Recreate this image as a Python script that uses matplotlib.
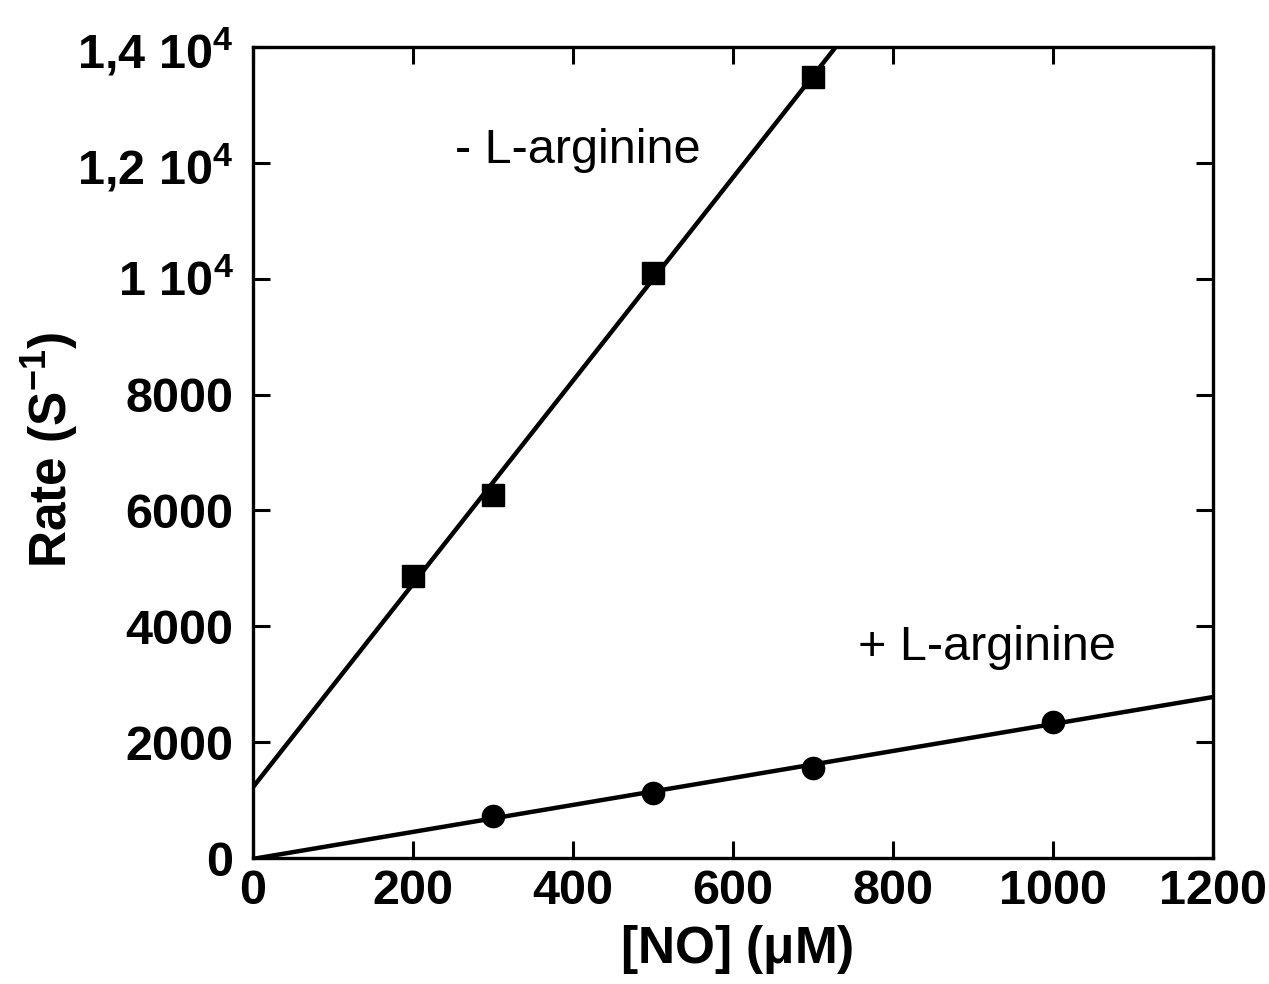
import numpy as np
import matplotlib
matplotlib.use("Agg")
import matplotlib.pyplot as plt

plt.rcParams['font.family'] = ['Liberation Sans', 'DejaVu Sans']
plt.rcParams['mathtext.fontset'] = 'custom'
plt.rcParams['mathtext.rm'] = 'Liberation Sans:bold'
plt.rcParams['mathtext.bf'] = 'Liberation Sans:bold'
plt.rcParams['mathtext.it'] = 'Liberation Sans:bold'
plt.rcParams['mathtext.default'] = 'bf'

# data
no_minus = [200, 300, 500, 700]
rate_minus = [4868, 6266, 10098, 13485]
no_plus = [300, 500, 700, 1000]
rate_plus = [725, 1127, 1559, 2353]

x_ticks = [0, 200, 400, 600, 800, 1000, 1200]
y_ticks = [0, 2000, 4000, 6000, 8000, 10000, 12000, 14000]
y_tick_labels = ['0', '2000', '4000', '6000', '8000',
                 r'1 10$^4$', r'1,2 10$^4$', r'1,4 10$^4$']

fig = plt.figure(figsize=(12.69, 9.84), dpi=100)
ax = fig.add_axes([0.1994, 0.128, 0.9559 - 0.1994, 0.9522 - 0.128])

# fits
pm = np.polyfit(no_minus, rate_minus, 1)
pp = np.polyfit(no_plus, rate_plus, 1)
xl = np.array([0, 1200])
ax.plot(xl, np.polyval(pm, xl), color='black', lw=3.2, zorder=2)
ax.plot(xl, np.polyval(pp, xl), color='black', lw=3.2, zorder=2)

ax.plot(no_minus, rate_minus, 's', color='black', ms=16, zorder=3)
ax.plot(no_plus, rate_plus, 'o', color='black', ms=16, zorder=3)

ax.set_xlim(0, 1200)
ax.set_ylim(0, 14000)
ax.set_xticks(x_ticks)
ax.set_xticklabels([str(v) for v in x_ticks])
ax.set_yticks(y_ticks)
ax.set_yticklabels(y_tick_labels)

ax.tick_params(direction='in', length=12, width=2.2, top=True, right=True,
               labelsize=35)
ax.tick_params(axis='x', pad=8)
ax.tick_params(axis='y', pad=14)
for lab in ax.get_xticklabels() + ax.get_yticklabels():
    lab.set_fontweight('bold')
for sp in ax.spines.values():
    sp.set_linewidth(2.4)

ax.set_xlabel(r'[NO] ($\mu$M)', fontsize=37, fontweight='bold')
ax.set_ylabel(r'Rate (S$^{-1}$)', fontsize=37, fontweight='bold')
ax.xaxis.label.set_va('center')
ax.yaxis.label.set_va('center')
ax.xaxis.set_label_coords(0.504, -0.113)
ax.yaxis.set_label_coords(-0.211, 0.503)

ax.text(252, 12222, '- L-arginine', fontsize=35, va='center', ha='left')
ax.text(756, 3642, '+ L-arginine', fontsize=35, va='center', ha='left')

fig.savefig('out.png', dpi=100)
